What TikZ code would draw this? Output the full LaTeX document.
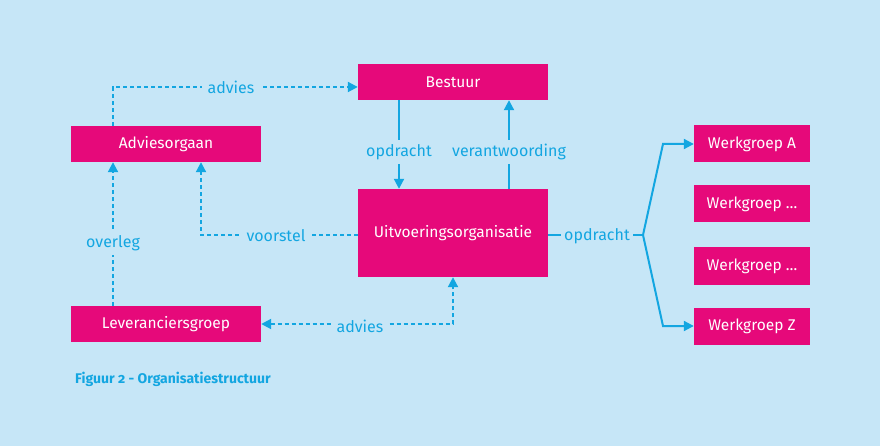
\documentclass[tikz,border=0pt]{standalone}
\usepackage{fontspec}
\setmainfont{Fira Sans}
\usetikzlibrary{arrows.meta}
\definecolor{bg}{HTML}{C6E6F7}
\definecolor{mag}{HTML}{E6097A}
\definecolor{lb}{HTML}{13A6E1}
\tikzset{
  box/.style={fill=mag, text=white, minimum width=190pt, minimum height=36pt, inner sep=0pt, font=\fontsize{15.5}{17}\selectfont},
  wbox/.style={box, minimum width=116pt, minimum height=37pt},
  lbl/.style={fill=bg, text=lb, inner xsep=6pt, inner ysep=4pt, font=\fontsize{16}{18}\selectfont},
  dline/.style={draw=lb, line width=2pt, dash pattern=on 4pt off 3pt},
  sline/.style={draw=lb, line width=2pt},
  arr/.style={-{Triangle[length=10pt,width=10pt]}},
  arrboth/.style={{Triangle[length=10pt,width=10pt]}-{Triangle[length=10pt,width=10pt]}}
}
\begin{document}
\begin{tikzpicture}[x=1pt,y=-1pt]
\fill[bg] (0,0) rectangle (880,446);
\useasboundingbox (0,0) rectangle (880,446);
\node[box] (bestuur) at (453,82) {Bestuur};
\node[box] (advies) at (166,144) {Adviesorgaan};
\node[box, minimum height=88pt] (uitv) at (453,233) {Uitvoeringsorganisatie};
\node[box] (lev) at (166,324) {Leveranciersgroep};
\node[wbox] (wa) at (752,144) {Werkgroep A};
\node[wbox] (wb) at (752,204) {Werkgroep \dots};
\node[wbox] (wc) at (752,266) {Werkgroep \dots};
\node[wbox] (wz) at (752,326) {Werkgroep Z};
\coordinate (c1) at (113,87);
\coordinate (c2) at (201,235);
\coordinate (c3) at (399,150);
\coordinate (c4) at (509,150);
\coordinate (c5) at (453,324);
\coordinate (fork) at (643,235);
\coordinate (ka) at (663,144);
\coordinate (kz) at (663,326);
\draw[dline,arr] (advies.north -| c1) -- (c1) -- (bestuur.west |- c1);
\draw[dline,arr] (lev.north -| c1) -- (advies.south -| c1);
\draw[dline,arr] (uitv.west |- c2) -- (c2) -- (advies.south -| c2);
\draw[sline,arr] (bestuur.south -| c3) -- (uitv.north -| c3);
\draw[sline,arr] (uitv.north -| c4) -- (bestuur.south -| c4);
\draw[sline] (uitv.east |- fork) -- (fork);
\draw[sline,arr] (fork) -- (ka) -- (wa.west);
\draw[sline,arr] (fork) -- (kz) -- (wz.west);
\draw[dline,arrboth] (lev.east) -- (c5) -- (uitv.south -| c5);
\node[lbl] (l1) at (231,87) {advies};
\node[lbl, inner xsep=3pt] (l2) at (113,243) {overleg};
\node[lbl] (l3) at (276,236) {voorstel};
\node[lbl, inner xsep=3pt] (l4) at (399,152) {opdracht};
\node[lbl, inner xsep=3pt] (l5) at (509,152) {verantwoording};
\node[lbl, inner xsep=3pt] (l6) at (597,236) {opdracht};
\node[lbl] (l7) at (360,326) {advies};
\node[anchor=west, text=lb, inner sep=0pt, font=\bfseries\fontsize{14}{16}\selectfont\addfontfeatures{Numbers=OldStyle}] (cap) at (75,379) {Figuur 2 - Organisatiestructuur};
\end{tikzpicture}
\end{document}
